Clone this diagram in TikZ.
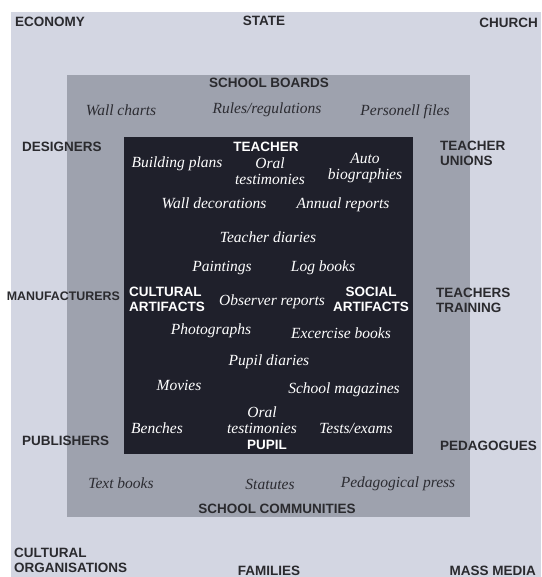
\documentclass[tikz,border=0pt]{standalone}
\usepackage{fontspec}
\setmainfont{Liberation Sans}
\newfontfamily\handfont{Liberation Serif}
\definecolor{outerbg}{HTML}{D3D6E2}
\definecolor{midbg}{HTML}{9EA2AE}
\definecolor{darkbg}{HTML}{1F202B}
\definecolor{labelink}{HTML}{2A2A2E}
\definecolor{handgray}{HTML}{2C2C32}
\tikzset{
  x=1pt, y=-1pt,
  outerlabel/.style={font=\fontsize{13.5}{15}\selectfont\bfseries, text=labelink, inner sep=0pt, align=left},
  innerwhite/.style={font=\fontsize{13.5}{15}\selectfont\bfseries, text=white, inner sep=0pt, align=center},
  handdark/.style={font=\handfont\itshape\fontsize{15.5}{15}\selectfont, text=handgray, inner sep=0pt, align=center},
  handlight/.style={font=\handfont\itshape\fontsize{15.5}{15}\selectfont, text=white, inner sep=0pt, align=center},
}
\begin{document}
\begin{tikzpicture}
\useasboundingbox (0,0) rectangle (541,577);
\fill[white] (0,0) rectangle (541,577);
\fill[outerbg] (11,12) rectangle (541,577);
\fill[midbg] (67,75) rectangle (470,517);
\fill[darkbg] (124,137) rectangle (413,454);

% outer ring labels
\node[outerlabel, anchor=west] (economy) at (15,22) {ECONOMY};
\node[outerlabel] (state) at (264,21) {STATE};
\node[outerlabel, anchor=east] (church) at (538,23) {CHURCH};
\node[outerlabel, anchor=west] (designers) at (22,147) {DESIGNERS};
\node[outerlabel, anchor=west, text width=90pt] (unions) at (440,153) {TEACHER\\UNIONS};
\node[outerlabel, anchor=east, font=\fontsize{12.4}{15}\selectfont\bfseries] (manuf) at (120,296) {MANUFACTURERS};
\node[outerlabel, anchor=west, text width=100pt] (training) at (436,300) {TEACHERS\\TRAINING};
\node[outerlabel, anchor=west] (publishers) at (22,441) {PUBLISHERS};
\node[outerlabel, anchor=east] (pedagogues) at (537,446) {PEDAGOGUES};
\node[outerlabel, anchor=west, text width=150pt] (culturg) at (14,560) {CULTURAL\\ORGANISATIONS};
\node[outerlabel] (families) at (269,571) {FAMILIES};
\node[outerlabel, anchor=east] (massmedia) at (536,571) {MASS MEDIA};

% middle ring
\node[outerlabel] (boards) at (269,83) {SCHOOL BOARDS};
\node[handdark] (wallcharts) at (121,110) {Wall charts};
\node[handdark] (rules) at (267,110) {Rules/regulations};
\node[handdark] (personell) at (405,112) {Personell files};
\node[handdark] (textbooks) at (121,483) {Text books};
\node[handdark] (statutes) at (270,484) {Statutes};
\node[handdark] (pedpress) at (398,484) {Pedagogical press};
\node[outerlabel] (communities) at (277,509) {SCHOOL COMMUNITIES};

% inner square
\node[innerwhite] (teacher) at (266,147) {TEACHER};
\node[handlight] (building) at (177,164) {Building plans};
\node[handlight] (oraltop) at (270,171) {Oral\\[1pt]testimonies};
\node[handlight] (autobio) at (365,168) {Auto\\[1pt]biographies};
\node[handlight] (walldec) at (214,203) {Wall decorations};
\node[handlight] (annual) at (343,205) {Annual reports};
\node[handlight] (tdiaries) at (268,237) {Teacher diaries};
\node[handlight] (paintings) at (222,268) {Paintings};
\node[handlight] (logbooks) at (323,268) {Log books};
\node[innerwhite, anchor=west, align=left] (cultart) at (129,299) {CULTURAL\\ARTIFACTS};
\node[handlight] (observer) at (272,302) {Observer reports};
\node[innerwhite] (socart) at (371,299) {SOCIAL\\ARTIFACTS};
\node[handlight] (photos) at (211,331) {Photographs};
\node[handlight] (exercise) at (341,333) {Excercise books};
\node[handlight] (pdiaries) at (269,362) {Pupil diaries};
\node[handlight] (movies) at (179,385) {Movies};
\node[handlight] (magazines) at (344,390) {School magazines};
\node[handlight] (oralbot) at (262,420) {Oral\\[1pt]testimonies};
\node[handlight] (benches) at (157,428) {Benches};
\node[handlight] (tests) at (356,428) {Tests/exams};
\node[innerwhite] (pupil) at (267,445) {PUPIL};
\end{tikzpicture}
\end{document}
